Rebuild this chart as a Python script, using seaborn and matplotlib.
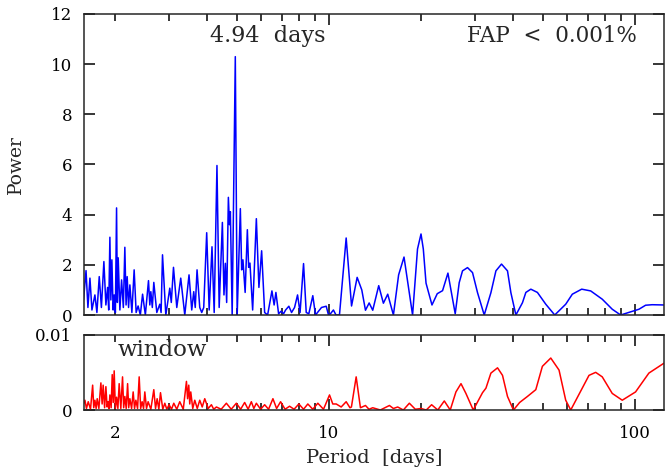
import matplotlib
matplotlib.use('Agg')
import matplotlib.pyplot as plt
import matplotlib.ticker as mticker
import pandas as pd
import seaborn as sns

# power spectrum: period [days], power
period = [1.576, 1.606, 1.629, 1.654, 1.679, 1.717, 1.743, 1.774, 1.803, 1.837,
          1.865, 1.889, 1.905, 1.922, 1.936, 1.951, 1.969, 1.985, 2.003, 2.021,
          2.033, 2.046, 2.072, 2.099, 2.127, 2.151, 2.171, 2.189, 2.212, 2.234,
          2.268, 2.307, 2.342, 2.377, 2.417, 2.458, 2.510, 2.570, 2.596, 2.616,
          2.645, 2.675, 2.736, 2.798, 2.826, 2.856, 2.928, 3.017, 3.051, 3.102,
          3.180, 3.276, 3.377, 3.487, 3.559, 3.613, 3.654, 3.704, 3.780, 3.837,
          3.895, 3.983, 4.058, 4.145, 4.214, 4.303, 4.375, 4.482, 4.536, 4.584,
          4.629, 4.689, 4.728, 4.760, 4.825, 4.940, 5.010, 5.131, 5.182, 5.232,
          5.320, 5.409, 5.462, 5.516, 5.629, 5.788, 5.901, 6.023, 6.161, 6.300,
          6.508, 6.617, 6.706, 6.843, 6.973, 7.105, 7.214, 7.393, 7.545, 7.717,
          7.893, 8.043, 8.257, 8.425, 8.592, 8.853, 9.035, 9.173, 9.452, 9.793,
          9.963, 10.11, 10.34, 10.54, 10.82, 11.38, 11.85, 12.36, 12.80, 13.16,
          13.53, 13.90, 14.54, 15.06, 15.56, 16.24, 16.89, 17.59, 18.76, 19.47,
          19.99, 20.34, 20.76, 21.71, 22.59, 23.51, 24.48, 25.86, 26.65, 27.32,
          28.37, 29.46, 30.59, 32.17, 33.83, 35.13, 36.64, 38.33, 39.32, 40.83,
          42.90, 44.01, 45.69, 48.01, 51.13, 54.70, 59.41, 62.44, 67.00, 71.70,
          78.22, 84.33, 89.83, 103.1, 108.4, 113.9, 124.3]
power = [0.6, 1.77, 0.3, 1.47, 0.2, 0.8, 0.1, 1.53, 0.3, 2.13,
         0.4, 1.1, 0.2, 3.1, 0.6, 2.2, 0.2, 0.8, 0.1, 4.27,
         0.5, 2.28, 0.2, 1.4, 0.3, 2.7, 0.4, 1.53, 0.3, 1.2,
         0.1, 1.8, 0.1, 0.36, 0.0, 0.83, 0.0, 1.37, 0.4, 0.93,
         0.3, 1.3, 0.1, 0.43, 0.1, 2.4, 0.0, 1.07, 0.5, 1.9,
         0.3, 1.47, 0.0, 1.6, 0.2, 0.93, 0.3, 1.8, 0.3, 0.1,
         0.3, 3.28, 0.2, 2.72, 0.1, 5.96, 0.3, 3.69, 0.8, 2.06,
         0.5, 4.69, 3.6, 4.12, 0.0, 10.3, 0.0, 4.24, 1.8, 2.2,
         0.9, 3.4, 1.9, 2.07, 0.2, 3.84, 1.1, 2.56, 0.1, 0.0,
         0.96, 0.4, 0.9, 0.05, 0.15, 0.05, 0.2, 0.35, 0.1, 0.3,
         0.8, 0.1, 2.05, 0.1, 0.05, 0.77, 0.0, 0.1, 0.3, 0.35,
         0.0, 0.05, 0.2, 0.0, 0.0, 3.07, 0.36, 1.5, 1.0, 0.19,
         0.48, 0.19, 1.17, 0.47, 0.83, 0.0, 1.6, 2.31, 0.0, 2.63,
         3.23, 2.63, 1.27, 0.4, 0.85, 0.97, 1.67, 0.05, 1.29, 1.76,
         1.89, 1.69, 0.89, 0.0, 0.89, 1.76, 2.03, 1.76, 0.89, 0.0,
         0.49, 0.9, 1.03, 0.9, 0.43, 0.0, 0.43, 0.83, 1.03, 0.96,
         0.63, 0.23, 0.0, 0.23, 0.39, 0.41, 0.40]

# window function
w_period = [1.576, 1.593, 1.611, 1.633, 1.661, 1.688, 1.702, 1.717, 1.733, 1.747,
            1.769, 1.796, 1.813, 1.827, 1.847, 1.865, 1.882, 1.897, 1.910, 1.922,
            1.940, 1.956, 1.971, 1.985, 2.003, 2.021, 2.041, 2.061, 2.087, 2.114,
            2.132, 2.151, 2.173, 2.196, 2.214, 2.234, 2.263, 2.290, 2.314, 2.337,
            2.367, 2.396, 2.423, 2.450, 2.476, 2.500, 2.532, 2.563, 2.616, 2.675,
            2.710, 2.743, 2.778, 2.813, 2.862, 2.906, 2.950, 3.001, 3.056, 3.109,
            3.180, 3.252, 3.339, 3.420, 3.449, 3.480, 3.506, 3.533, 3.586, 3.641,
            3.710, 3.780, 3.851, 3.925, 4.029, 4.127, 4.199, 4.285, 4.442, 4.619,
            4.790, 4.980, 5.143, 5.300, 5.441, 5.574, 5.679, 5.788, 5.977, 6.161,
            6.346, 6.557, 6.741, 6.947, 7.185, 7.432, 7.689, 7.971, 8.257, 8.527,
            8.853, 9.194, 9.596, 10.04, 10.29, 10.56, 10.96, 11.38, 11.71, 11.84,
            12.27, 12.67, 13.16, 13.51, 13.90, 14.72, 15.76, 16.24, 16.77, 17.50,
            18.31, 19.15, 19.99, 20.80, 21.65, 22.68, 23.82, 24.91, 26.00, 27.01,
            28.03, 29.62, 31.76, 32.59, 33.83, 35.56, 36.92, 38.33, 40.09, 42.00,
            44.54, 47.43, 49.84, 53.09, 56.50, 59.41, 61.70, 67.30, 70.79, 74.44,
            78.22, 84.33, 90.93, 100.5, 111.1, 124.3]
w_power = [0.0008, 0.0013, 0.0002, 0.0011, 0.0001, 0.0033, 0.0003, 0.0013, 0.0002, 0.0015,
           0.0002, 0.0036, 0.0008, 0.0033, 0.0003, 0.0031, 0.0004, 0.0011, 0.0002, 0.0020,
           0.0003, 0.0047, 0.0010, 0.0052, 0.0002, 0.0017, 0.0002, 0.0035, 0.0002, 0.0044,
           0.0003, 0.0018, 0.0002, 0.0035, 0.0003, 0.0015, 0.0002, 0.0024, 0.0002, 0.0013,
           0.0002, 0.0044, 0.0002, 0.0011, 0.0002, 0.0024, 0.0002, 0.0011, 0.0001, 0.0027,
           0.0002, 0.0015, 0.0001, 0.0023, 0.0001, 0.0009, 0.0001, 0.0007, 0.0001, 0.0009,
           0.0001, 0.0011, 0.0001, 0.0038, 0.0015, 0.0033, 0.0008, 0.0024, 0.0002, 0.0013,
           0.0002, 0.0013, 0.0004, 0.0015, 0.0002, 0.0007, 0.0001, 0.0004, 0.0001, 0.0009,
           0.0001, 0.0009, 0.0001, 0.0010, 0.0001, 0.0011, 0.0002, 0.0009, 0.0001, 0.0007,
           0.0001, 0.0015, 0.0002, 0.0011, 0.0001, 0.0005, 0.0001, 0.0008, 0.0001, 0.0008,
           0.0001, 0.0009, 0.0001, 0.0020, 0.0008, 0.0008, 0.0004, 0.0011, 0.0003, 0.0004,
           0.0044, 0.0003, 0.0006, 0.0001, 0.0003, 0.0000, 0.0006, 0.0002, 0.0004, 0.0000,
           0.0009, 0.0001, 0.0002, 0.0000, 0.0007, 0.0000, 0.0012, 0.0000, 0.0024, 0.0035,
           0.0022, 0.0000, 0.0023, 0.0029, 0.0049, 0.0056, 0.0046, 0.0018, 0.0000, 0.0010,
           0.0018, 0.0027, 0.0058, 0.0069, 0.0053, 0.0013, 0.0000, 0.0029, 0.0046, 0.0050,
           0.0044, 0.0022, 0.0013, 0.0024, 0.0049, 0.0062]

x_lim = (1.576, 124.5)
power_ticks = [0, 2, 4, 6, 8, 10, 12]
window_ticks = [0, 0.01]
window_tick_labels = ['0', '0.01']


def style_axis(ax):
  ax.set_xscale('log')
  ax.set_xlim(*x_lim)
  ax.xaxis.set_major_locator(mticker.FixedLocator([10, 100]))
  ax.xaxis.set_minor_locator(mticker.FixedLocator(
      [2, 3, 4, 5, 6, 7, 8, 9, 20, 30, 40, 50, 60, 70, 80, 90]))
  ax.tick_params(which='both', direction='in', top=True, right=True,
                 width=1.1, labelsize=12, colors='black')
  ax.tick_params(which='major', length=8)
  ax.tick_params(which='minor', length=5)
  ax.tick_params(axis='y', which='both', pad=8)
  for s in ax.spines.values():
    s.set_linewidth(1.1)
  ax.set_xlabel('')
  ax.set_ylabel('')


def main():
  df = pd.DataFrame({'period': period, 'power': power})
  wdf = pd.DataFrame({'period': w_period, 'power': w_power})

  sns.set_style('ticks')
  plt.rcParams['font.family'] = ['DejaVu Serif']
  plt.rcParams['mathtext.fontset'] = 'dejavuserif'

  fig = plt.figure(figsize=(6.65, 4.71), dpi=100)
  ax = fig.add_axes([0.1256, 0.3312, 0.8729, 0.6391])
  axw = fig.add_axes([0.1256, 0.1295, 0.8729, 0.1599], sharex=ax)

  sns.lineplot(data=df, x='period', y='power', ax=ax, color='#0000ff',
               lw=1.1, estimator=None, sort=False)
  sns.lineplot(data=wdf, x='period', y='power', ax=axw, color='#ff0000',
               lw=1.1, estimator=None, sort=False)

  style_axis(ax)
  style_axis(axw)

  ax.set_ylim(0, 12)
  ax.set_yticks(power_ticks)
  ax.tick_params(axis='x', which='both', labelbottom=False)
  ax.set_ylabel('Power', fontsize=13.5)
  ax.yaxis.set_label_coords(-0.1, 0.5)

  axw.set_ylim(0, 0.01)
  axw.set_yticks(window_ticks)
  axw.set_yticklabels(window_tick_labels)
  axw.xaxis.set_major_formatter(mticker.FixedFormatter(['10', '100']))
  axw.xaxis.set_minor_formatter(mticker.FuncFormatter(
      lambda v, pos: '2' if abs(v - 2) < 1e-6 else ''))
  axw.tick_params(axis='x', which='both', pad=11)
  axw.set_xlabel('Period  [days]', fontsize=14, labelpad=5)

  ax.text(0.318, 0.928, '4.94  days', transform=ax.transAxes,
          ha='center', va='center', fontsize=16)
  ax.text(0.807, 0.928, 'FAP  <  0.001%', transform=ax.transAxes,
          ha='center', va='center', fontsize=15.5)
  axw.text(0.136, 0.80, 'window', transform=axw.transAxes,
           ha='center', va='center', fontsize=16.5)

  fig.savefig('out.png', dpi=100)
  plt.close(fig)


if __name__ == '__main__':
  main()
